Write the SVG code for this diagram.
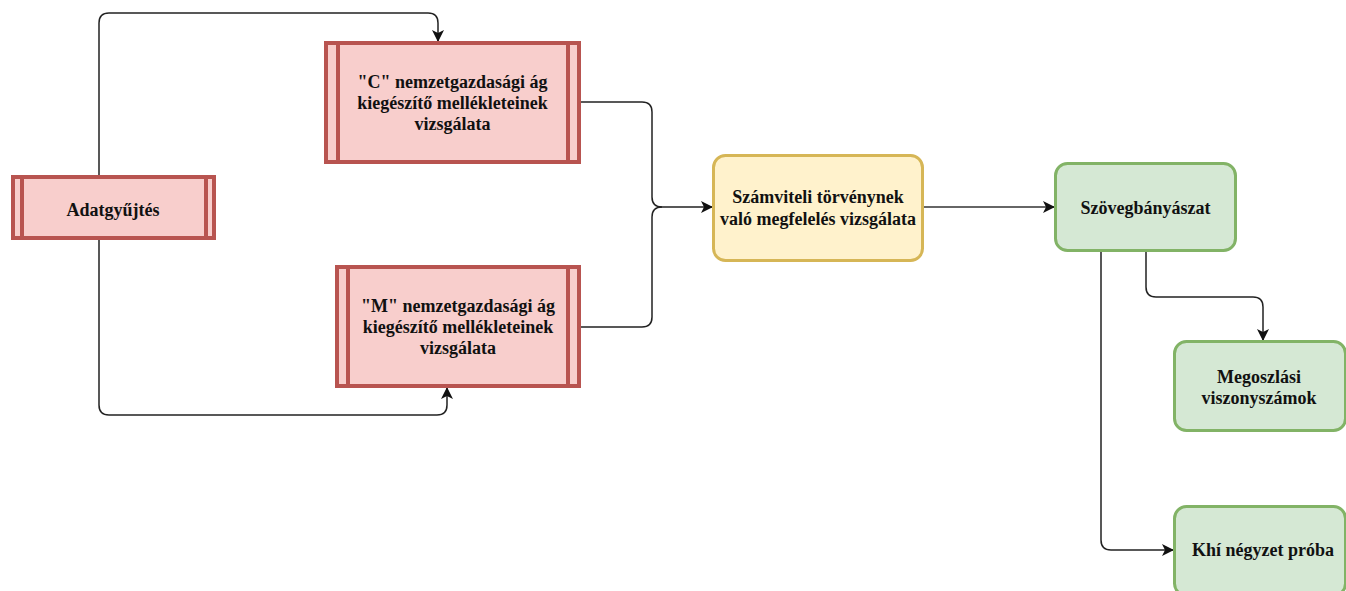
<svg xmlns="http://www.w3.org/2000/svg" width="1346" height="591" viewBox="0 0 1346 591">
<defs>
<style>
.red{fill:#f8cecc;stroke:#b85450;stroke-width:4}
.redl{stroke:#b85450;stroke-width:4;fill:none}
.yel{fill:#fff2cc;stroke:#d6b656;stroke-width:3}
.grn{fill:#d5e8d4;stroke:#82b366;stroke-width:3}
.t{font-weight:bold;font-size:18px;fill:#111;text-anchor:middle}
.c{fill:none;stroke:#222;stroke-width:1.5}
.cg{fill:none;stroke:#666;stroke-width:2}
</style>
<marker id="ar" viewBox="0 0 12 12" refX="11" refY="6" markerWidth="12" markerHeight="12" markerUnits="userSpaceOnUse" orient="auto">
<path d="M0,0 L12,6 L0,12 L3,6 Z" fill="#111"/>
</marker>
</defs>
<g id="connectors">
<path class="c" d="M99,175 V23 Q99,13 109,13 H428 Q438,13 438,23 V41" marker-end="url(#ar)"/>
<path class="c" d="M99,240 V405 Q99,415 109,415 H437 Q447,415 447,405 V388" marker-end="url(#ar)"/>
<path class="c" d="M581,102 H642 Q652,102 652,112 V197 Q652,207 662,207 H712" marker-end="url(#ar)"/>
<path class="c" d="M581,327 H642 Q652,327 652,317 V217 Q652,207 662,207"/>
<path class="cg" d="M924,207 H1054" marker-end="url(#ar)"/>
<path class="c" d="M1146,252 V287 Q1146,297 1156,297 H1253 Q1263,297 1263,307 V340" marker-end="url(#ar)"/>
<path class="c" d="M1101,252 V540 Q1101,550 1111,550 H1173" marker-end="url(#ar)"/>
</g>
<g font-family="'Liberation Serif', 'DejaVu Serif', serif">
<g id="adatgyujtes">
<rect class="red" x="13" y="177" width="201" height="61"/>
<path class="redl" d="M22,177 V238 M206,177 V238"/>
<text class="t" x="113" y="216">Adatgyűjtés</text>
</g>
<g id="c-ag">
<rect class="red" x="326" y="43" width="253" height="119"/>
<path class="redl" d="M338,43 V162 M568,43 V162"/>
<text class="t" x="452.5" y="88">"C" nemzetgazdasági ág</text>
<text class="t" x="452.5" y="109">kiegészítő mellékleteinek</text>
<text class="t" x="452.5" y="130">vizsgálata</text>
</g>
<g id="m-ag">
<rect class="red" x="337" y="267" width="242" height="119"/>
<path class="redl" d="M348,267 V386 M568,267 V386"/>
<text class="t" x="458" y="312">"M" nemzetgazdasági ág</text>
<text class="t" x="458" y="333">kiegészítő mellékleteinek</text>
<text class="t" x="458" y="354">vizsgálata</text>
</g>
<g id="szamviteli">
<rect class="yel" x="713.5" y="155.5" width="209" height="105" rx="12"/>
<text class="t" x="818" y="203">Számviteli törvénynek</text>
<text class="t" x="818" y="225">való megfelelés vizsgálata</text>
</g>
<g id="szovegbanyaszat">
<rect class="grn" x="1055.5" y="163.5" width="180" height="87" rx="12"/>
<text class="t" x="1145.5" y="214">Szövegbányászat</text>
</g>
<g id="megoszlasi">
<rect class="grn" x="1174.5" y="341.5" width="171" height="89" rx="12"/>
<text class="t" x="1259" y="383">Megoszlási</text>
<text class="t" x="1259" y="404">viszonyszámok</text>
</g>
<g id="khi">
<rect class="grn" x="1174.5" y="506.5" width="171" height="89" rx="12"/>
<text class="t" x="1263" y="556">Khí négyzet próba</text>
</g>
</g>
</svg>
